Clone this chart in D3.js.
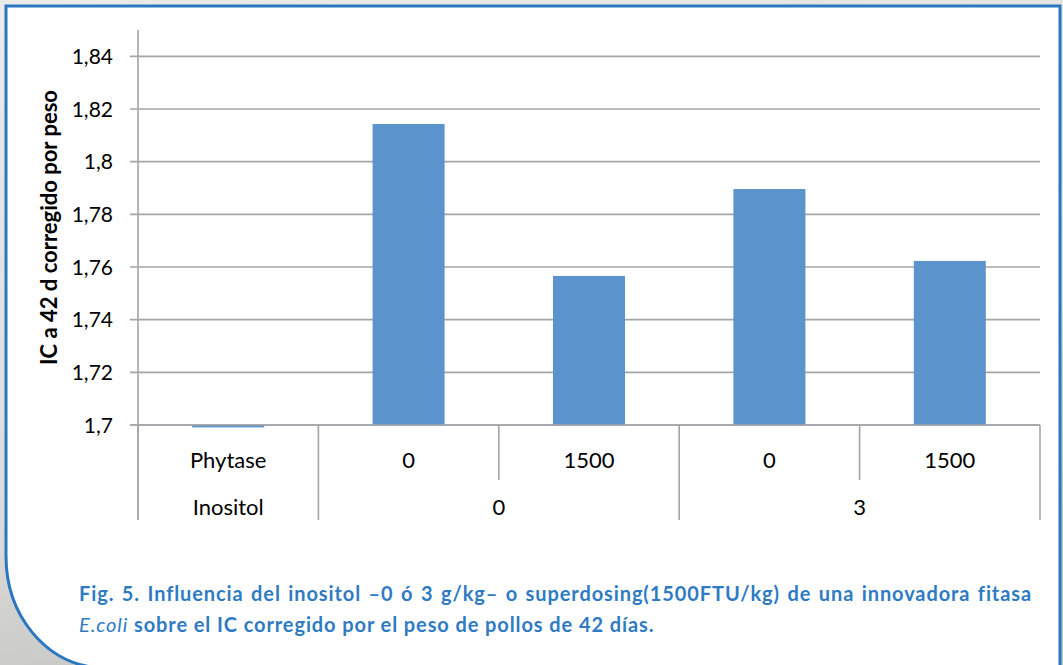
<!DOCTYPE html>
<html>
<head>
<meta charset="utf-8">
<script src="https://cdn.jsdelivr.net/npm/d3@7"></script>
<style>
  html, body { margin: 0; padding: 0; background: #e9e8e5; }
  svg { display: block; }
</style>
</head>
<body>
<svg id="chart" width="1063" height="665"></svg>
<script>
// Feed conversion (IC) at 42 d, corrected for body weight
const phytaseLabels = ["Phytase", "0", "1500", "0", "1500"];
const inositolGroups = [
  { label: "Inositol", from: 0, to: 0 },
  { label: "0", from: 1, to: 2 },
  { label: "3", from: 3, to: 4 }
];
const icValues = [1.7, 1.8143, 1.7566, 1.7896, 1.7623];
const yTicks = [1.7, 1.72, 1.74, 1.76, 1.78, 1.8, 1.82, 1.84];
const yTitle = "IC a 42 d corregido por peso";
const captionLine1 = "Fig. 5. Influencia del inositol \u20130 \u00f3 3 g/kg\u2013 o superdosing(1500FTU/kg) de una innovadora fitasa";
const captionItalic = "E.coli";
const captionLine2 = " sobre el IC corregido por el peso de pollos de 42 d\u00edas.";

const svg = d3.select("#chart");
const W = 1063, H = 665;

// Backdrop behind the framed panel
const defs = svg.append("defs");
const bg = defs.append("linearGradient").attr("id", "bg")
  .attr("x1", 0).attr("y1", 0).attr("x2", 0.35).attr("y2", 1);
bg.append("stop").attr("offset", 0).attr("stop-color", "#ecebe8");
bg.append("stop").attr("offset", 0.7).attr("stop-color", "#dcdbd8");
bg.append("stop").attr("offset", 1).attr("stop-color", "#c2c3c1");
svg.append("rect").attr("width", W).attr("height", H).attr("fill", "url(#bg)");

// White panel with a rounded lower-left corner
const panelPath = d3.path();
panelPath.moveTo(6, 6);
panelPath.lineTo(1060, 6);
panelPath.lineTo(1060, 668);
panelPath.lineTo(100, 668);
panelPath.bezierCurveTo(45, 664, 6, 615, 6, 556);
panelPath.closePath();
svg.append("path").attr("d", panelPath.toString())
  .attr("fill", "#ffffff")
  .attr("stroke", "#2b76c1")
  .attr("stroke-width", 3);

// Plot geometry
const x0 = 138, x1 = 1040, yTop = 30, yBase = 425;
const x = d3.scaleBand().domain(d3.range(icValues.length)).range([x0, x1]).padding(0);
const y = d3.scaleLinear().domain([1.7, 1.85]).range([yBase, yTop]);

const gridColor = "#a5a5a8";
const g = svg.append("g");

// Horizontal gridlines and tick marks
g.selectAll("line.grid").data(yTicks).join("line")
  .attr("class", "grid")
  .attr("x1", x0 - 8).attr("x2", x1)
  .attr("y1", d => y(d)).attr("y2", d => y(d))
  .attr("stroke", gridColor).attr("stroke-width", 1.6);

// Y axis line
g.append("line")
  .attr("x1", x0).attr("x2", x0)
  .attr("y1", y(1.85)).attr("y2", yBase + 95)
  .attr("stroke", gridColor).attr("stroke-width", 1.6);

// Tick labels
const fmt = d => d3.format(".2~f")(d).replace(".", ",");
g.selectAll("text.tick").data(yTicks).join("text")
  .attr("class", "tick")
  .attr("x", 113).attr("y", d => y(d))
  .attr("dy", "0.36em")
  .attr("text-anchor", "end")
  .attr("font-family", "Lato, 'Open Sans', sans-serif")
  .attr("font-size", 21)
  .attr("fill", "#000")
  .text(fmt);

// Axis title
g.append("text")
  .attr("transform", `translate(57,${(yTop + yBase) / 2}) rotate(-90)`)
  .attr("text-anchor", "middle")
  .attr("font-family", "Lato, 'Open Sans', sans-serif")
  .attr("font-weight", 700)
  .attr("font-size", 22)
  .attr("fill", "#000")
  .text(yTitle);

// Bars
const barColor = "#5b93cd";
const barW = 72;
g.selectAll("rect.bar").data(icValues).join("rect")
  .attr("class", "bar")
  .attr("x", (d, i) => x(i) + x.bandwidth() / 2 - barW / 2)
  .attr("width", barW)
  .attr("y", d => Math.min(y(d), yBase - 0.1))
  .attr("height", d => Math.max(yBase - y(d), 1.5) + (d === 1.7 ? 1 : 0))
  .attr("fill", barColor);

// Redraw the base line over the bars
g.append("line")
  .attr("x1", x0 - 8).attr("x2", x1)
  .attr("y1", yBase).attr("y2", yBase)
  .attr("stroke", gridColor).attr("stroke-width", 1.6);

// Category table: separators
const row1 = 480, row2 = 520;
const bounds = d3.range(icValues.length + 1).map(i => i < icValues.length ? x(i) : x1);
bounds.forEach((bx, i) => {
  const isGroupEdge = inositolGroups.some(gr => x(gr.from) === bx) || i === bounds.length - 1;
  g.append("line")
    .attr("x1", bx).attr("x2", bx)
    .attr("y1", yBase).attr("y2", isGroupEdge ? row2 : row1)
    .attr("stroke", gridColor).attr("stroke-width", 1.6);
});

const labelFont = "Lato, 'Open Sans', sans-serif";
g.selectAll("text.cat1").data(phytaseLabels).join("text")
  .attr("class", "cat1")
  .attr("x", (d, i) => x(i) + x.bandwidth() / 2)
  .attr("y", 468)
  .attr("text-anchor", "middle")
  .attr("font-family", labelFont)
  .attr("font-size", 22)
  .attr("fill", "#000")
  .text(d => d);

g.selectAll("text.cat2").data(inositolGroups).join("text")
  .attr("class", "cat2")
  .attr("x", d => (x(d.from) + x(d.to) + x.bandwidth()) / 2)
  .attr("y", 515)
  .attr("text-anchor", "middle")
  .attr("font-family", labelFont)
  .attr("font-size", 22)
  .attr("fill", "#000")
  .text(d => d.label);

// Caption
const capColor = "#2f7bc3";
const capFont = "Lato, 'Open Sans', sans-serif";
const capX = 79, capRight = 1032;
const cap1 = svg.append("text")
  .attr("x", capX).attr("y", 601)
  .attr("font-family", capFont)
  .attr("font-weight", 700)
  .attr("font-size", 20)
  .attr("letter-spacing", 0.9)
  .attr("fill", capColor)
  .text(captionLine1);
const natural = cap1.node().getComputedTextLength();
const spaces = (captionLine1.match(/ /g) || []).length;
cap1.attr("word-spacing", Math.max(0, (capRight - capX - natural) / spaces));

const cap2 = svg.append("text")
  .attr("x", capX).attr("y", 632)
  .attr("font-family", capFont)
  .attr("font-size", 20)
  .attr("letter-spacing", 0.9)
  .attr("fill", capColor);
cap2.append("tspan").attr("font-style", "italic").attr("font-weight", 400).text(captionItalic);
cap2.append("tspan").attr("font-weight", 700).text(captionLine2);
</script>
</body>
</html>
